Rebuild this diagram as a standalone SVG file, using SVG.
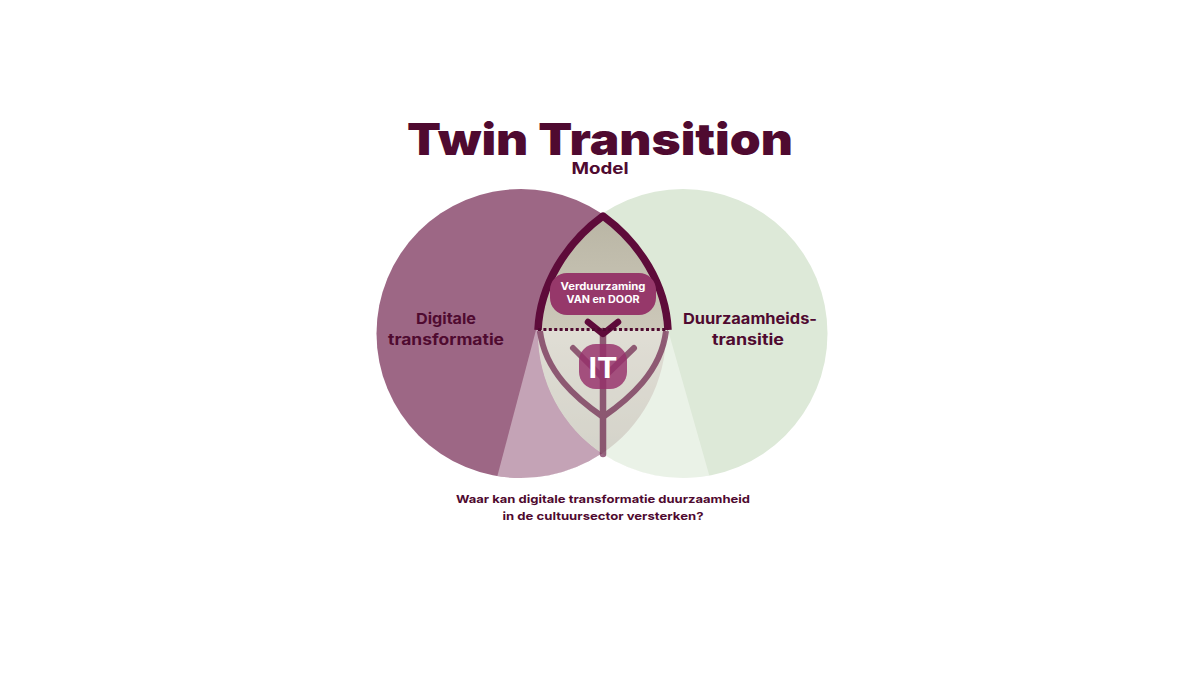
<svg xmlns="http://www.w3.org/2000/svg" width="1200" height="675" viewBox="0 0 1200 675">
  <style>
    text { font-family: "Inter", "Liberation Sans", sans-serif; font-weight: 700; fill: #4f0a30; text-anchor: middle; }
    .light { fill: #fff; }
    .leaf { fill: none; stroke: #5e0b3a; stroke-linejoin: round; }
    .round { stroke-linecap: round; }
  </style>
  <defs>
    <clipPath id="circles"><circle cx="521" cy="333.500" r="144.500"/><circle cx="683" cy="333.500" r="144.500"/></clipPath>
    <linearGradient id="overlap-fill" x1="0" y1="0" x2="0" y2="1">
      <stop offset="0" stop-color="#b9b5a4"/>
      <stop offset="0.480" stop-color="#ccc8b9"/>
      <stop offset="1" stop-color="#b8b6a6"/>
    </linearGradient>
  </defs>
  <rect width="1200" height="675" fill="#fff"/>

  <g id="title">
    <text x="600" y="155" font-size="44" style="font-weight:900" textLength="386" lengthAdjust="spacingAndGlyphs">Twin Transition</text>
    <text x="600" y="174" font-size="16" textLength="57" lengthAdjust="spacingAndGlyphs">Model</text>
  </g>

  <g id="venn">
    <circle id="circle-digital" cx="521" cy="333.500" r="144.500" fill="#9d6785"/>
    <circle id="circle-sustain" cx="683" cy="333.500" r="144.500" fill="#dde9d8"/>
    <path id="overlap" d="M602 213.500A144.500 144.500 0 0 1 602 453.500A144.500 144.500 0 0 1 602 213.500Z" fill="url(#overlap-fill)"/>
    <path id="light-wedge" clip-path="url(#circles)" d="M536 330H668L712 485H495Z" fill="#fff" fill-opacity="0.400"/>
  </g>

  <g id="connectors">
    <!-- upper leaf outline -->
    <path class="leaf" stroke-width="7.500" d="M538 330C540 285 566 243 603 216C640 243 666 285 668 330"/>
    <!-- lower leaf outline and stem -->
    <g opacity="0.620">
      <path class="leaf" stroke-width="6" d="M540 331C545 372 577 399 603 417C629 399 661 372 666 331"/>
      <path class="leaf round" stroke-width="6.500" d="M603 331V454"/>
      <path class="leaf round" stroke-width="6" d="M573 348L603 378L634 348"/>
    </g>
    <path class="leaf round" stroke-width="6.500" d="M588 322L603 334L618 322"/>
    <path id="divider" d="M538 329.500H668" fill="none" stroke="#4f0a30" stroke-width="3" stroke-dasharray="3 2.400"/>
  </g>

  <g id="node-verduurzaming">
    <rect x="550" y="273" width="106" height="42" rx="17" fill="#96386a"/>
    <text class="light" x="603" y="289.500" font-size="10" textLength="85" lengthAdjust="spacingAndGlyphs">Verduurzaming</text>
    <text class="light" x="603" y="303" font-size="10" textLength="73" lengthAdjust="spacingAndGlyphs">VAN en DOOR</text>
  </g>

  <g id="node-it">
    <rect x="579" y="344" width="48" height="45" rx="17" fill="#96306a" fill-opacity="0.820"/>
    <text class="light" x="603" y="378" font-size="28" textLength="29" lengthAdjust="spacingAndGlyphs">IT</text>
  </g>

  <g id="node-digitale">
    <text x="446" y="324" font-size="15" textLength="60" lengthAdjust="spacingAndGlyphs">Digitale</text>
    <text x="446" y="345" font-size="15" textLength="116" lengthAdjust="spacingAndGlyphs">transformatie</text>
  </g>

  <g id="node-duurzaamheid">
    <text x="750" y="324" font-size="15" textLength="134" lengthAdjust="spacingAndGlyphs">Duurzaamheids-</text>
    <text x="748" y="345" font-size="15" textLength="72" lengthAdjust="spacingAndGlyphs">transitie</text>
  </g>

  <g id="caption">
    <text x="603" y="503" font-size="11" textLength="294" lengthAdjust="spacingAndGlyphs">Waar kan digitale transformatie duurzaamheid</text>
    <text x="603" y="520" font-size="11" textLength="201" lengthAdjust="spacingAndGlyphs">in de cultuursector versterken?</text>
  </g>
</svg>
